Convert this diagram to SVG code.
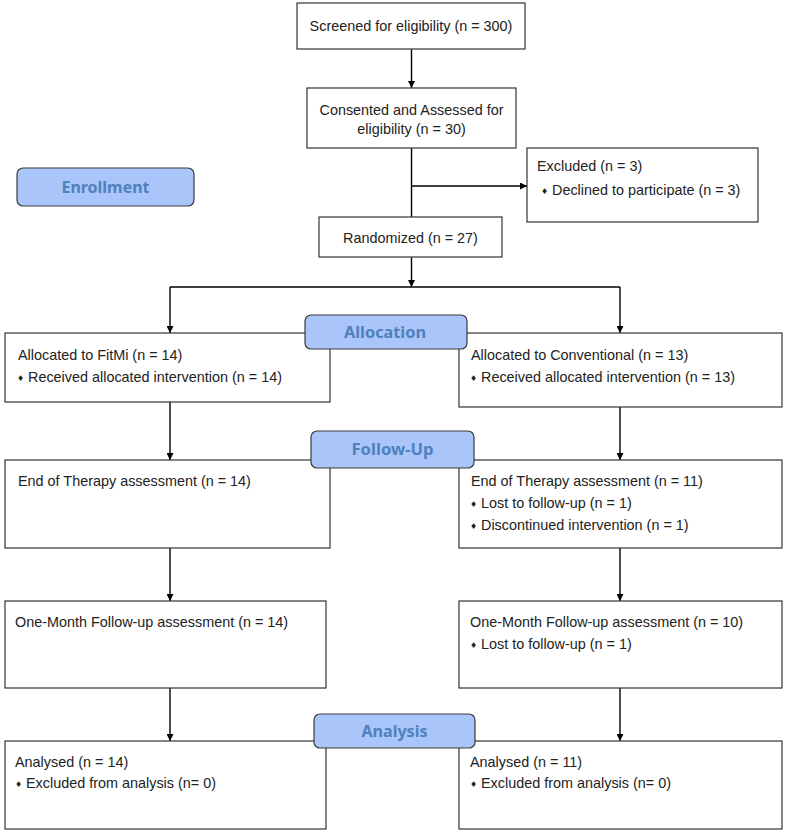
<svg xmlns="http://www.w3.org/2000/svg" width="787" height="832" viewBox="0 0 787 832">
<defs>
<style>
.box{fill:#fff;stroke:#333;stroke-width:1.2}
.lab{fill:#a9c5f9;stroke:#3a3a3a;stroke-width:1.2}
.t{font-family:"Liberation Sans",Arial,sans-serif;font-size:14.4px;fill:#222}
.c{text-anchor:middle}
.b{font-family:"DejaVu Sans",sans-serif;font-size:8px;fill:#222}
.lt{font-family:"Noto Sans","Open Sans",sans-serif;font-weight:bold;font-size:16px;fill:#4f81bd;text-anchor:middle}
.ln{fill:none;stroke:#000;stroke-width:1.4}
</style>
<marker id="ar" viewBox="0 0 10 10" refX="10" refY="5" markerWidth="8" markerHeight="7" markerUnits="userSpaceOnUse" orient="auto">
<path d="M0,0 L10,5 L0,10 z" fill="#000"/>
</marker>
</defs>
<rect width="787" height="832" fill="#fff"/>

<g id="connectors">
<line class="ln" x1="411.5" y1="49" x2="411.5" y2="88" marker-end="url(#ar)"/>
<line class="ln" x1="411.5" y1="148" x2="411.5" y2="217"/>
<line class="ln" x1="411.5" y1="186" x2="527" y2="186" marker-end="url(#ar)"/>
<line class="ln" x1="411.5" y1="257" x2="411.5" y2="287" marker-end="url(#ar)"/>
<line class="ln" x1="170" y1="287" x2="620" y2="287"/>
<line class="ln" x1="170" y1="287" x2="170" y2="333" marker-end="url(#ar)"/>
<line class="ln" x1="620" y1="287" x2="620" y2="333" marker-end="url(#ar)"/>
<line class="ln" x1="170" y1="402" x2="170" y2="460" marker-end="url(#ar)"/>
<line class="ln" x1="620" y1="407" x2="620" y2="460" marker-end="url(#ar)"/>
<line class="ln" x1="170" y1="548" x2="170" y2="601" marker-end="url(#ar)"/>
<line class="ln" x1="620" y1="548" x2="620" y2="601" marker-end="url(#ar)"/>
<line class="ln" x1="170" y1="688" x2="170" y2="741" marker-end="url(#ar)"/>
<line class="ln" x1="620" y1="688" x2="620" y2="741" marker-end="url(#ar)"/>
</g>

<g id="screened">
<rect class="box" x="297" y="3" width="228" height="46"/>
<text class="t c" x="411" y="31">Screened for eligibility (n = 300)</text>
</g>

<g id="consented">
<rect class="box" x="307" y="88" width="209" height="60"/>
<text class="t c" x="411.5" y="115">Consented and Assessed for</text>
<text class="t c" x="411.5" y="134">eligibility (n = 30)</text>
</g>

<g id="excluded">
<rect class="box" x="527" y="148" width="231" height="74"/>
<text class="t" x="537" y="171">Excluded  (n = 3)</text>
<text class="b" x="541" y="194">♦</text>
<text class="t" x="552" y="195">Declined to participate (n = 3)</text>
</g>

<g id="randomized">
<rect class="box" x="319" y="217" width="183" height="40"/>
<text class="t c" x="410.5" y="243">Randomized (n = 27)</text>
</g>

<g id="alloc-fitmi">
<rect class="box" x="5" y="333" width="325" height="69"/>
<text class="t" x="18" y="360">Allocated to FitMi (n = 14)</text>
<text class="b" x="17" y="381">♦</text>
<text class="t" x="28" y="382">Received allocated intervention (n = 14)</text>
</g>

<g id="alloc-conv">
<rect class="box" x="459" y="333" width="323" height="74"/>
<text class="t" x="471" y="360">Allocated to Conventional (n = 13)</text>
<text class="b" x="470" y="381">♦</text>
<text class="t" x="481" y="382">Received allocated intervention (n = 13)</text>
</g>

<g id="eot-fitmi">
<rect class="box" x="5" y="460" width="325" height="88"/>
<text class="t" x="18" y="486">End of Therapy assessment (n = 14)</text>
</g>

<g id="eot-conv">
<rect class="box" x="459" y="460" width="323" height="88"/>
<text class="t" x="471" y="486">End of Therapy assessment (n = 11)</text>
<text class="b" x="470" y="507">♦</text>
<text class="t" x="481" y="508">Lost to follow-up (n = 1)</text>
<text class="b" x="470" y="529">♦</text>
<text class="t" x="481" y="530">Discontinued intervention (n = 1)</text>
</g>

<g id="month-fitmi">
<rect class="box" x="5" y="601" width="321" height="87"/>
<text class="t" x="15" y="627">One-Month Follow-up assessment  (n = 14)</text>
</g>

<g id="month-conv">
<rect class="box" x="459" y="601" width="323" height="87"/>
<text class="t" x="470" y="627">One-Month Follow-up assessment  (n = 10)</text>
<text class="b" x="470" y="648">♦</text>
<text class="t" x="481" y="649">Lost to follow-up (n = 1)</text>
</g>

<g id="analysed-fitmi">
<rect class="box" x="5" y="741" width="321" height="88"/>
<text class="t" x="15" y="767">Analysed  (n = 14)</text>
<text class="b" x="15" y="787">♦</text>
<text class="t" x="26" y="788">Excluded from analysis (n= 0)</text>
</g>

<g id="analysed-conv">
<rect class="box" x="459" y="741" width="323" height="88"/>
<text class="t" x="470" y="767">Analysed  (n = 11)</text>
<text class="b" x="470" y="787">♦</text>
<text class="t" x="481" y="788">Excluded from analysis (n= 0)</text>
</g>

<g id="enrollment">
<rect class="lab" x="17" y="168" width="177" height="38" rx="6"/>
<text class="lt" x="105.5" y="192.5" textLength="88" lengthAdjust="spacingAndGlyphs">Enrollment</text>
</g>

<g id="allocation">
<rect class="lab" x="305" y="315" width="162" height="34" rx="6"/>
<text class="lt" x="385" y="337.5" textLength="82" lengthAdjust="spacingAndGlyphs">Allocation</text>
</g>

<g id="followup">
<rect class="lab" x="311" y="431" width="163" height="37" rx="6"/>
<text class="lt" x="392.5" y="455" textLength="82" lengthAdjust="spacingAndGlyphs">Follow-Up</text>
</g>

<g id="analysis">
<rect class="lab" x="314" y="714" width="161" height="34" rx="6"/>
<text class="lt" x="394.5" y="736.5" textLength="66" lengthAdjust="spacingAndGlyphs">Analysis</text>
</g>
</svg>
